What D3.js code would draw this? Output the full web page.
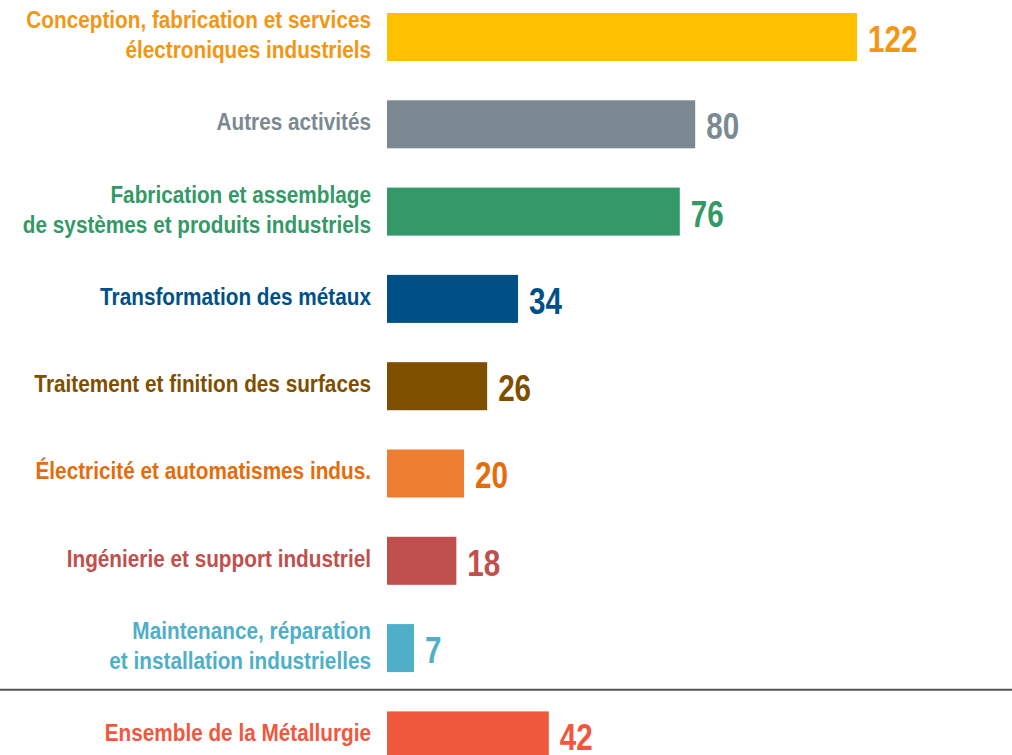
<!DOCTYPE html>
<html>
<head>
<meta charset="utf-8">
<script src="https://d3js.org/d3.v7.min.js"></script>
<style>
    body { margin: 0; background: #fff; }
    svg text { font-family: "Liberation Sans", Arial, sans-serif; font-weight: bold; }
</style>
</head>
<body>
<script>
    // categories (lines split for the two-line labels)
    var categories = [
        ["Conception, fabrication et services", "électroniques industriels"],
        ["Autres activités"],
        ["Fabrication et assemblage", "de systèmes et produits industriels"],
        ["Transformation des métaux"],
        ["Traitement et finition des surfaces"],
        ["Électricité et automatismes indus."],
        ["Ingénierie et support industriel"],
        ["Maintenance, réparation", "et installation industrielles"],
        ["Ensemble de la Métallurgie"]
    ];
    var values = [122, 80, 76, 34, 26, 20, 18, 7, 42];
    var barColors = ["#FFC000", "#7B8A92", "#339966", "#005088", "#7F4F00", "#ED7D31", "#C0504D", "#4FAFC8", "#F0583E"];
    var textColors = ["#F39614", "#7B8A92", "#339966", "#005088", "#7F4F00", "#E46C0A", "#C0504D", "#4FAFC8", "#F0583E"];

    var width = 1012, height = 755;
    var labelRight = 371;
    var narrow = 0.865;   // no narrow font installed, so squeeze horizontally
    var narrowNum = 0.8;

    var svg = d3.select("body").append("svg")
        .attr("width", width)
        .attr("height", height);

    var idx = d3.range(values.length);

    var y = d3.scaleBand()
        .domain(idx)
        .range([13, 759.4])
        .paddingInner(0.45)
        .paddingOuter(0);

    var x = d3.scaleLinear()
        .domain([0, 122])
        .range([387, 857]);

    var row = svg.selectAll("g.row")
        .data(idx)
        .enter()
        .append("g")
        .attr("class", "row")
        .attr("transform", function (i) { return "translate(0," + y(i) + ")"; });

    row.append("rect")
        .attr("x", x(0))
        .attr("width", function (i) { return x(values[i]) - x(0); })
        .attr("height", y.bandwidth())
        .attr("fill", function (i) { return barColors[i]; });

    // category labels, right aligned against the bars
    row.append("text")
        .attr("transform", "translate(" + labelRight + ",0) scale(" + narrow + ",1)")
        .attr("text-anchor", "end")
        .attr("font-size", 24)
        .attr("fill", function (i) { return textColors[i]; })
        .each(function (i) {
            var lines = categories[i];
            var lh = 30;
            var base = y.bandwidth() / 2 + 6 - (lines.length - 1) * lh / 2;
            d3.select(this).selectAll("tspan")
                .data(lines)
                .enter()
                .append("tspan")
                .attr("x", 0)
                .attr("y", function (d, k) { return base + k * lh; })
                .text(function (d) { return d; });
        });

    // value labels
    row.append("text")
        .attr("transform", function (i) {
            return "translate(" + (x(values[i]) + 11) + "," + (y.bandwidth() / 2 + 15) + ") scale(" + narrowNum + ",1)";
        })
        .attr("font-size", 37)
        .attr("fill", function (i) { return textColors[i]; })
        .text(function (i) { return values[i]; });

    // separator above the total
    var sepY = (y(7) + y.bandwidth() + y(8)) / 2 - 2;
    svg.append("line")
        .attr("x1", 0)
        .attr("x2", width)
        .attr("y1", sepY)
        .attr("y2", sepY)
        .attr("stroke", "#555")
        .attr("stroke-width", 2);
</script>
</body>
</html>
